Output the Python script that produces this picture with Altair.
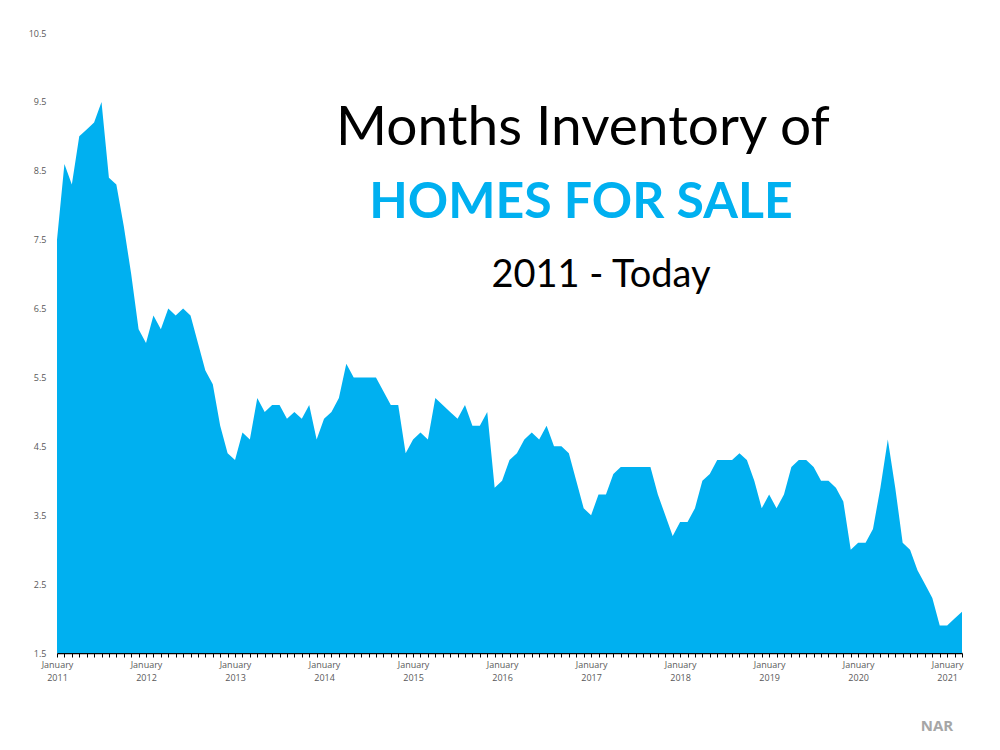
import altair as alt
import pandas as pd

years = [2011, 2012, 2013, 2014, 2015, 2016, 2017, 2018, 2019, 2020, 2021]
v2011 = [7.5, 8.6, 8.3, 9.0, 9.1, 9.2, 9.5, 8.4, 8.3, 7.7, 7.0, 6.2]
v2012 = [6.0, 6.4, 6.2, 6.5, 6.4, 6.5, 6.4, 6.0, 5.6, 5.4, 4.8, 4.4]
v2013 = [4.3, 4.7, 4.6, 5.2, 5.0, 5.1, 5.1, 4.9, 5.0, 4.9, 5.1, 4.6]
v2014 = [4.9, 5.0, 5.2, 5.7, 5.5, 5.5, 5.5, 5.5, 5.3, 5.1, 5.1, 4.4]
v2015 = [4.6, 4.7, 4.6, 5.2, 5.1, 5.0, 4.9, 5.1, 4.8, 4.8, 5.0, 3.9]
v2016 = [4.0, 4.3, 4.4, 4.6, 4.7, 4.6, 4.8, 4.5, 4.5, 4.4, 4.0, 3.6]
v2017 = [3.5, 3.8, 3.8, 4.1, 4.2, 4.2, 4.2, 4.2, 4.2, 3.8, 3.5, 3.2]
v2018 = [3.4, 3.4, 3.6, 4.0, 4.1, 4.3, 4.3, 4.3, 4.4, 4.3, 4.0, 3.6]
v2019 = [3.8, 3.6, 3.8, 4.2, 4.3, 4.3, 4.2, 4.0, 4.0, 3.9, 3.7, 3.0]
v2020 = [3.1, 3.1, 3.3, 3.9, 4.6, 3.9, 3.1, 3.0, 2.7, 2.5, 2.3, 1.9]
v2021 = [1.9, 2.0, 2.1]
series = [v2011, v2012, v2013, v2014, v2015, v2016, v2017, v2018, v2019, v2020, v2021]

y_ticks = [1.5, 2.5, 3.5, 4.5, 5.5, 6.5, 7.5, 8.5, 9.5, 10.5]

rows = []
idx = 0
for yr, vals in zip(years, series):
    for m, v in enumerate(vals):
        rows.append({"idx": idx, "year": yr, "month": m + 1, "value": v})
        idx += 1
df = pd.DataFrame(rows)
n = len(df)
one = pd.DataFrame({"k": [0]})

BLUE = "#00B0F0"

area = alt.Chart(df).mark_area(color=BLUE, opacity=1, clip=True).encode(
    x=alt.X(
        "idx:Q",
        scale=alt.Scale(domain=[0, n - 1], nice=False, zero=False),
        axis=alt.Axis(
            title=None,
            values=list(range(n)),
            labelExpr="datum.value % 12 == 0 ? ['January', '' + (2011 + datum.value / 12)] : ''",
            labelOverlap=False,
            labelBound=False,
            labelFlush=False,
            labelFont="Open Sans",
            labelFontSize=9,
            labelColor="#595959",
            labelLineHeight=13,
            labelPadding=3,
            tickSize=4,
            tickColor="#000000",
            tickWidth=1,
            domainColor="#000000",
            domainWidth=1.5,
            grid=False,
        ),
    ),
    y=alt.Y(
        "value:Q",
        scale=alt.Scale(domain=[1.5, 10.5], nice=False, zero=False),
        axis=alt.Axis(
            title=None,
            values=y_ticks,
            format=".1f",
            domain=False,
            ticks=False,
            grid=False,
            labelFont="Open Sans",
            labelFontSize=9,
            labelColor="#595959",
            labelPadding=11,
        ),
    ),
    y2=alt.datum(1.5),
)

title1 = alt.Chart(one).mark_text(
    text="Months Inventory of", font="Lato", fontSize=55, color="#000000",
    align="center", baseline="alphabetic"
).encode(x=alt.value(526), y=alt.value(112))

title2 = alt.Chart(one).mark_text(
    text="HOMES FOR SALE", font="Lato", fontSize=50, fontWeight="bold", color=BLUE,
    align="center", baseline="alphabetic"
).encode(x=alt.value(524), y=alt.value(185))

title3 = alt.Chart(one).mark_text(
    text="2011 - Today", font="Lato", fontSize=38, color="#000000",
    align="center", baseline="alphabetic"
).encode(x=alt.value(544), y=alt.value(254))

source = alt.Chart(one).mark_text(
    text="NAR", font="Open Sans", fontSize=15, fontWeight="bold", color="#A6A6A6",
    align="center", baseline="alphabetic"
).encode(x=alt.value(880), y=alt.value(698))

chart = alt.layer(area, title1, title2, title3, source).properties(
    width=905,
    height=620,
    autosize=alt.AutoSizeParams(type="none"),
    padding={"left": 49, "top": 25, "right": 30, "bottom": 85},
).configure_view(stroke=None)

chart.save("out.html", embed_options={"renderer": "svg", "actions": False})
